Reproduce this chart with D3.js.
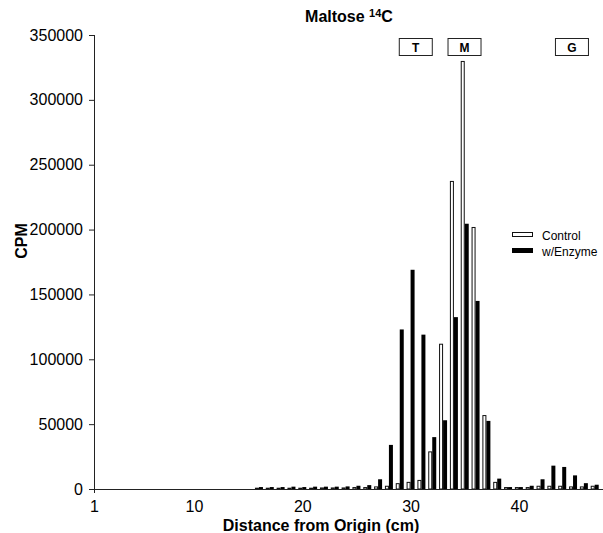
<!DOCTYPE html>
<html><head><meta charset="utf-8">
<script src="https://cdn.jsdelivr.net/npm/d3@7"></script>
<style>body{margin:0;background:#fff} svg text{font-family:"Liberation Sans",Arial,Helvetica,sans-serif;fill:#000}</style>
</head><body><svg id="c" width="603" height="533"></svg>
<script>
// ---- data ----
const distances = [16,17,18,19,20,21,22,23,24,25,26,27,28,29,30,31,32,33,34,35,36,37,38,39,40,41,42,43,44,45,46,47];
const control   = [1000,1000,1000,1000,1000,1000,1200,1200,1200,1500,1500,2000,2500,4500,5500,7000,29000,112000,237500,330000,202000,57000,5500,1500,1500,1500,2500,2500,2500,2000,2000,2500];
const enzyme    = [1500,1500,1500,1800,1500,1800,1800,1800,2000,2500,3000,7500,34000,123000,169000,119000,40000,53000,132500,204500,145000,52500,8000,1500,1500,2500,7500,18000,17000,10500,4500,3300];
const seriesNames = ["Control","w/Enzyme"];
const xTickValues = [1,10,20,30,40];
const yTickValues = [0,50000,100000,150000,200000,250000,300000,350000];
const markerLabels = ["T","M","G"];
const markerDistances = [30.48,34.98,44.9];

// ---- layout ----
const svg = d3.select("#c");
const x = d3.scaleLinear().domain([1,47]).range([96.5,594.7]);
const y = d3.scaleLinear().domain([0,350000]).range([489,35]);
const inner = d3.scaleBand().domain(seriesNames).range([-4,4]);
const axisColor = "#222";

// bars
const rows = distances.map((d,i)=>({d, vals:[control[i], enzyme[i]]}));
const g = svg.append("g");
rows.forEach(r=>{
  r.vals.forEach((v,j)=>{
    const name = seriesNames[j];
    const x0 = x(r.d) + inner(name);
    if (j===0) {
      g.append("rect").attr("x", x0+0.5).attr("y", y(v)+0.5)
        .attr("width", inner.bandwidth()-1).attr("height", Math.max(0, y(0)-y(v)-0.5))
        .attr("fill","#fff").attr("stroke","#111").attr("stroke-width",1);
    } else {
      g.append("rect").attr("x", x0).attr("y", y(v))
        .attr("width", inner.bandwidth()).attr("height", y(0)-y(v))
        .attr("fill","#000");
    }
  });
});

// y axis
const ya = svg.append("g").attr("transform","translate(94,0)")
  .call(d3.axisLeft(y).tickValues(yTickValues).tickSize(5).tickPadding(6).tickSizeOuter(0).tickFormat(d3.format("d")));
ya.select(".domain").remove();
ya.selectAll(".tick line").attr("stroke",axisColor);
ya.selectAll("text").style("font-size","16px").attr("fill","#000");
svg.append("line").attr("x1",94.5).attr("x2",94.5).attr("y1",35).attr("y2",493).attr("stroke",axisColor);

// x axis
const xa = svg.append("g").attr("transform","translate(0,489)")
  .call(d3.axisBottom(x).tickValues(xTickValues).tickSize(0).tickPadding(12).tickFormat(d3.format("d")));
xa.select(".domain").remove();
xa.selectAll("text").style("font-size","16px").attr("fill","#000");
xa.selectAll(".tick").filter(d=>d===1).attr("transform","translate(94.5,0)");
svg.append("line").attr("x1",94).attr("x2",603).attr("y1",489.5).attr("y2",489.5).attr("stroke",axisColor);

// title
const t = svg.append("text").attr("x",349).attr("y",22).attr("text-anchor","middle")
  .style("font-size","16px").style("font-weight","bold");
t.append("tspan").text("Maltose ");
t.append("tspan").text("14").style("font-size","11px").attr("dy","-5");
t.append("tspan").text("C").attr("dy","5");

// axis titles
svg.append("text").attr("transform","translate(27,241) rotate(-90)").attr("text-anchor","middle")
  .style("font-size","16px").style("font-weight","bold").text("CPM");
svg.append("text").attr("x",321).attr("y",531).attr("text-anchor","middle")
  .style("font-size","16px").style("font-weight","bold").text("Distance from Origin (cm)");

// marker boxes
markerLabels.forEach((lab,i)=>{
  const cx = x(markerDistances[i]);
  svg.append("rect").attr("x",cx-16.5).attr("y",38.5).attr("width",33).attr("height",17)
    .attr("fill","#fff").attr("stroke","#222");
  svg.append("text").attr("x",cx).attr("y",51.5).attr("text-anchor","middle")
    .style("font-size","12px").style("font-weight","bold").text(lab);
});

// legend
seriesNames.forEach((name,i)=>{
  const ly = 232 + i*16;
  if (i===0) {
    svg.append("rect").attr("x",512.5).attr("y",ly+0.5).attr("width",20).attr("height",4)
      .attr("fill","#fff").attr("stroke","#111");
  } else {
    svg.append("rect").attr("x",512).attr("y",ly).attr("width",21).attr("height",5).attr("fill","#000");
  }
  svg.append("text").attr("x",542).attr("y",ly+8).style("font-size","12px").text(name);
});
</script></body></html>
